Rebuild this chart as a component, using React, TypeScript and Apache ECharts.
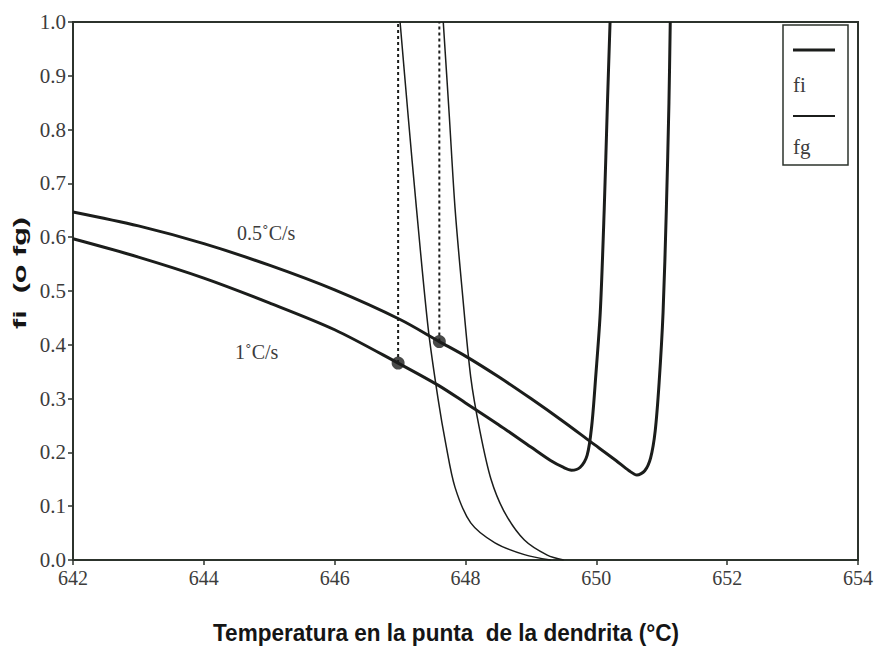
import React, { useEffect, useRef } from "react";
import * as echarts from "echarts";

// Temperature (°C) vs fraction — fi curves (thick) and fg curves (thin)
const fiSlow: [number, number][] = [
  [642.0, 0.647], [643.0, 0.621], [644.0, 0.588], [645.0, 0.548], [646.0, 0.502],
  [647.0, 0.447], [647.6, 0.406], [648.0, 0.379], [648.5, 0.341], [649.0, 0.3],
  [649.5, 0.257], [649.91, 0.22], [650.3, 0.185], [650.5, 0.166], [650.62, 0.158],
  [650.74, 0.166], [650.83, 0.19], [650.9, 0.24], [650.96, 0.33], [651.02, 0.46],
  [651.07, 0.65], [651.11, 0.85], [651.13, 1.0],
];
const fiFast: [number, number][] = [
  [642.0, 0.597], [643.0, 0.563], [644.0, 0.524], [645.0, 0.478], [646.0, 0.428],
  [646.97, 0.366], [647.58, 0.325], [648.0, 0.292], [648.5, 0.252], [649.0, 0.21],
  [649.3, 0.185], [649.5, 0.172], [649.62, 0.167], [649.75, 0.172], [649.86, 0.195],
  [649.93, 0.25], [649.99, 0.34], [650.06, 0.46], [650.12, 0.65], [650.17, 0.85],
  [650.21, 1.0],
];
const fgFast: [number, number][] = [
  [647.0, 1.0], [647.12, 0.83], [647.25, 0.654], [647.43, 0.43], [647.58, 0.3],
  [647.7, 0.215], [647.84, 0.135], [648.08, 0.069], [648.45, 0.032], [648.9, 0.01],
  [649.3, 0.0],
];
const fgSlow: [number, number][] = [
  [647.66, 1.0], [647.75, 0.83], [647.84, 0.654], [647.95, 0.5], [648.08, 0.34],
  [648.22, 0.24], [648.39, 0.15], [648.6, 0.088], [648.9, 0.037], [649.25, 0.009],
  [649.5, 0.0],
];
// Marked points where fi meets the vertical guides
const markedPoints: [number, number][] = [
  [646.97, 0.366],
  [647.6, 0.406],
];
const guideTop = 1.0;

const xTicks = { min: 642, max: 654, interval: 2 };
const yTicks = { min: 0, max: 1, interval: 0.1 };

const ink = "#1b1d1b";
const axisInk = "#2c332c";
const labelInk = "#3c3c3c";
const serif = "Liberation Serif";

export default function App() {
  const ref = useRef<HTMLDivElement>(null);

  useEffect(() => {
    document.body.style.margin = "0";
    if (!ref.current) return;
    const chart = echarts.init(ref.current, undefined, { renderer: "svg" });

    const thick = (data: [number, number][]) => ({
      type: "line",
      data,
      smooth: 0.3,
      showSymbol: false,
      lineStyle: { color: ink, width: 3 },
      z: 3,
    });
    const thin = (data: [number, number][]) => ({
      type: "line",
      data,
      smooth: 0.3,
      showSymbol: false,
      lineStyle: { color: ink, width: 1.5 },
      z: 2,
    });
    const guide = (p: [number, number]) => ({
      type: "line",
      data: [p, [p[0], guideTop]],
      showSymbol: false,
      lineStyle: { color: ink, width: 2, type: [3, 3] },
      z: 1,
    });

    chart.setOption({
      animation: false,
      backgroundColor: "#ffffff",
      textStyle: { fontFamily: serif },
      grid: {
        left: 73,
        right: 14,
        top: 22,
        bottom: 94,
        show: true,
        borderColor: axisInk,
        borderWidth: 2,
      },
      xAxis: {
        type: "value",
        min: xTicks.min,
        max: xTicks.max,
        interval: xTicks.interval,
        axisLine: { show: true, lineStyle: { color: axisInk, width: 2 } },
        axisTick: { show: true, length: 5, lineStyle: { color: axisInk, width: 1.5 } },
        splitLine: { show: false },
        axisLabel: {
          color: labelInk,
          fontFamily: serif,
          fontSize: 20,
          margin: 8,
          formatter: (v: number) => `{t|${v}}`,
          rich: { t: { fontFamily: serif, fontSize: 20, color: labelInk } },
        },
      },
      yAxis: {
        type: "value",
        min: yTicks.min,
        max: yTicks.max,
        interval: yTicks.interval,
        axisLine: { show: true, lineStyle: { color: axisInk, width: 2 } },
        axisTick: { show: true, length: 5, lineStyle: { color: axisInk, width: 1.5 } },
        splitLine: { show: false },
        axisLabel: {
          color: labelInk,
          fontFamily: serif,
          fontSize: 21,
          margin: 7,
          formatter: (v: number) => `{t|${v.toFixed(1)}}`,
          rich: { t: { fontFamily: serif, fontSize: 21, color: labelInk } },
        },
      },
      series: [
        guide(markedPoints[0]),
        guide(markedPoints[1]),
        thin(fgFast),
        thin(fgSlow),
        thick(fiSlow),
        thick(fiFast),
        {
          type: "scatter",
          data: markedPoints,
          symbol: "circle",
          symbolSize: 13,
          itemStyle: { color: ink },
          z: 5,
        },
      ],
      graphic: [
        {
          type: "text",
          x: 446,
          y: 633,
          scaleX: 0.94,
          style: {
            text: "Temperatura en la punta  de la dendrita (°C)",
            font: "bold 24px 'Liberation Sans'",
            fill: "#151515",
            align: "center",
            verticalAlign: "middle",
          },
        },
        {
          type: "text",
          x: 20,
          y: 273,
          rotation: Math.PI / 2,
          scaleX: 1.7,
          style: {
            text: "fi  (o fg)",
            font: "bold 18px 'Liberation Sans'",
            fill: "#151515",
            align: "center",
            verticalAlign: "middle",
          },
        },
        {
          type: "text",
          x: 237,
          y: 233,
          style: {
            text: "0.5˚C/s",
            font: `20px '${serif}'`,
            fill: labelInk,
            align: "left",
            verticalAlign: "middle",
          },
        },
        {
          type: "text",
          x: 235,
          y: 352,
          style: {
            text: "1˚C/s",
            font: `20px '${serif}'`,
            fill: labelInk,
            align: "left",
            verticalAlign: "middle",
          },
        },
        // legend box
        {
          type: "rect",
          shape: { x: 783, y: 25, width: 65, height: 140 },
          style: { fill: "#ffffff", stroke: axisInk, lineWidth: 1.5 },
          z: 10,
        },
        {
          type: "line",
          shape: { x1: 793, y1: 50, x2: 835, y2: 50 },
          style: { stroke: ink, lineWidth: 3 },
          z: 11,
        },
        {
          type: "text",
          x: 793,
          y: 85,
          style: {
            text: "fi",
            font: `21px '${serif}'`,
            fill: labelInk,
            align: "left",
            verticalAlign: "middle",
          },
          z: 11,
        },
        {
          type: "line",
          shape: { x1: 793, y1: 116, x2: 835, y2: 116 },
          style: { stroke: ink, lineWidth: 2 },
          z: 11,
        },
        {
          type: "text",
          x: 793,
          y: 147,
          style: {
            text: "fg",
            font: `21px '${serif}'`,
            fill: labelInk,
            align: "left",
            verticalAlign: "middle",
          },
          z: 11,
        },
      ],
    });

    return () => chart.dispose();
  }, []);

  return <div ref={ref} style={{ width: 876, height: 654 }} />;
}
